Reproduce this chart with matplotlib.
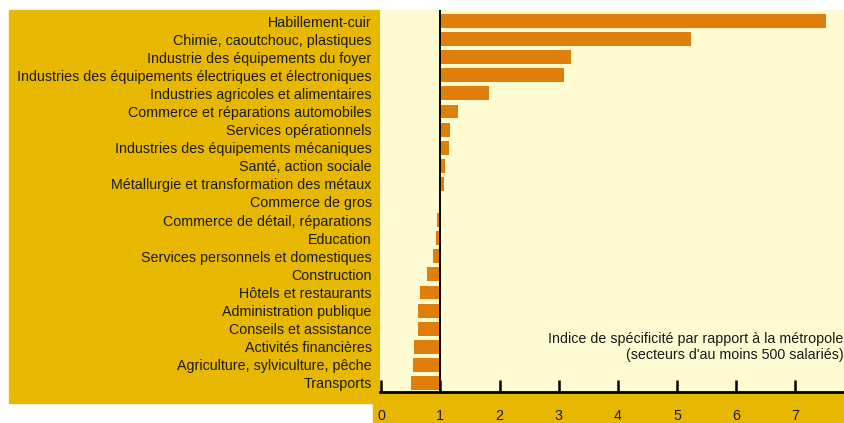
import numpy as np
import matplotlib
matplotlib.use("Agg")
import matplotlib.pyplot as plt
from matplotlib.patches import Rectangle

plt.rcParams['font.family'] = ['Liberation Sans', 'DejaVu Sans']

# --- données ---
secteurs = [
    "Habillement-cuir",
    "Chimie, caoutchouc, plastiques",
    "Industrie des équipements du foyer",
    "Industries des équipements électriques et électroniques",
    "Industries agricoles et alimentaires",
    "Commerce et réparations automobiles",
    "Services opérationnels",
    "Industries des équipements mécaniques",
    "Santé, action sociale",
    "Métallurgie et transformation des métaux",
    "Commerce de gros",
    "Commerce de détail, réparations",
    "Education",
    "Services personnels et domestiques",
    "Construction",
    "Hôtels et restaurants",
    "Administration publique",
    "Conseils et assistance",
    "Activités financières",
    "Agriculture, sylviculture, pêche",
    "Transports",
]
indice = [7.52, 5.24, 3.21, 3.09, 1.82, 1.30, 1.16, 1.15, 1.08, 1.06, 1.00,
          0.95, 0.93, 0.88, 0.78, 0.66, 0.625, 0.625, 0.56, 0.54, 0.51]
ticks_x = [0, 1, 2, 3, 4, 5, 6, 7]

JAUNE = "#E8B800"
CREME = "#FEFAD2"
ORANGE = "#E07E0B"
TEXTE = "#1a1a1a"
FS = 10.3

W, H = 844, 423
fig = plt.figure(figsize=(W / 100, H / 100), dpi=100)

# panneaux de fond (en pixels)
def rect_px(x0, y0, x1, y1, color):
    fig.patches.append(Rectangle((x0 / W, 1 - y1 / H), (x1 - x0) / W, (y1 - y0) / H,
                                 transform=fig.transFigure, color=color, zorder=-1))

rect_px(9, 10, 380, 403, JAUNE)
rect_px(373, 392, 844, 423, JAUNE)

ax = fig.add_axes([380 / W, 1 - 392 / H, (844 - 380) / W, (392 - 10) / H])
ax.set_facecolor(CREME)

y = np.arange(len(secteurs))
vals = np.array(indice)
ax.barh(y, vals - 1, left=1, height=0.77, color=ORANGE, zorder=2)
ax.axvline(1, color="black", lw=1.4, zorder=3)

ax.set_xlim(-0.02, 7.82)
ax.set_ylim(20.5, -0.61)

ax.set_yticks(y)
ax.set_yticklabels(secteurs, fontsize=FS, color=TEXTE)
ax.tick_params(axis="y", length=0, pad=6)

ax.set_xticks(ticks_x)
ax.set_xticklabels([str(t) for t in ticks_x], fontsize=FS, color=TEXTE)
ax.tick_params(axis="x", direction="in", length=9, width=1.8, pad=12)

for s in ["top", "right", "left"]:
    ax.spines[s].set_visible(False)
ax.spines["bottom"].set_linewidth(2)

ax.text(0.999, 0.118, "Indice de spécificité par rapport à la métropole\n(secteurs d'au moins 500 salariés)",
        transform=ax.transAxes, ha="right", va="center", fontsize=FS, color=TEXTE,
        multialignment="right", linespacing=1.25)

fig.savefig("out.png", dpi=100)
